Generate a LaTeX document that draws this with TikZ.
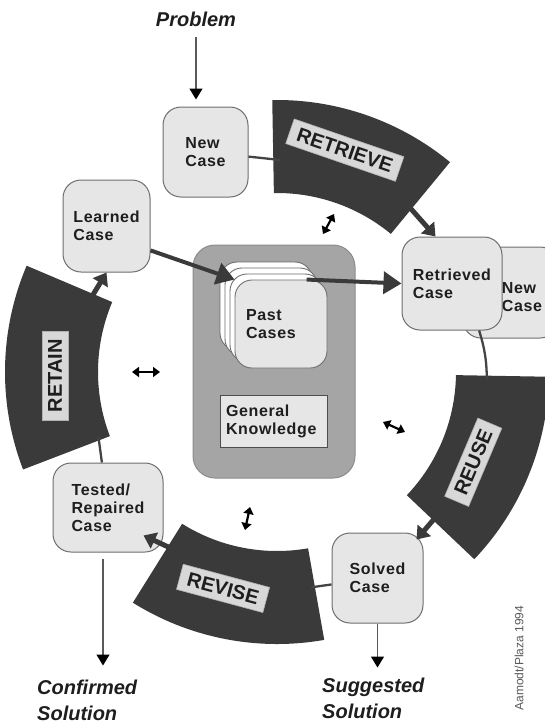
\documentclass[tikz,border=0pt]{standalone}
\usepackage{fontspec}
\setmainfont{Liberation Sans}
\newfontfamily\casefont{Liberation Sans}[LetterSpace=4]
\usetikzlibrary{calc,arrows.meta}
\definecolor{bandc}{HTML}{3A3A3A}
\definecolor{nodefill}{HTML}{E6E6E6}
\definecolor{nodeline}{HTML}{6E6E6E}
\definecolor{kbfill}{HTML}{A5A5A5}
\definecolor{kbline}{HTML}{8C8C8C}
\definecolor{labfill}{HTML}{D8D8D8}
\definecolor{linec}{HTML}{444444}
\definecolor{txt}{HTML}{1E1E1E}
\newcommand\cbrband[2]{%
  \fill[bandc] ($(O)+(#1:179pt)$) arc[start angle=#1, end angle=#2, radius=179pt]
    -- ($(O)+(#2:272pt)$) arc[start angle=#2, end angle=#1, radius=272pt] -- cycle;}
\begin{document}
\begin{tikzpicture}[x=1pt,y=1pt,
  casebox/.style={draw=nodeline, line width=1pt, fill=nodefill, rounded corners=18pt,
    align=left, text=txt, font=\casefont\bfseries\fontsize{16}{18}\selectfont, inner sep=0pt},
  casetext/.style={align=left, text=txt, font=\casefont\bfseries\fontsize{16}{18}\selectfont, inner sep=0pt},
  card/.style={draw=nodeline, line width=0.9pt, fill=white, rounded corners=17pt,
    minimum width=92pt, minimum height=88pt, inner sep=0pt},
  kb/.style={draw=kbline, line width=1pt, fill=kbfill, rounded corners=22pt, inner sep=0pt},
  gk/.style={draw=black!70, line width=0.8pt, fill=nodefill, align=left, text width=95pt,
    text=txt, font=\casefont\bfseries\fontsize{16}{18}\selectfont, inner xsep=0pt, inner ysep=0pt},
  lab/.style={fill=labfill, draw=gray!60, line width=0.6pt, text=txt,
    font=\bfseries\fontsize{20}{22}\selectfont, inner xsep=8pt, inner ysep=3pt, minimum height=26pt},
  conn/.style={draw=linec, line width=2.3pt},
  bandarrow/.style={draw=bandc, line width=5pt, -{Triangle[length=12pt,width=17pt]}},
  bigarrow/.style={draw=bandc, line width=4pt, -{Triangle[length=18pt,width=22pt]}},
  thinarrow/.style={draw=black!65, line width=1.3pt, -{Triangle[length=11pt,width=13pt,color=black]}},
  dbl/.style={draw=black, line width=2.2pt, {Triangle[length=7pt,width=10pt]}-{Triangle[length=7pt,width=10pt]}},
  bigtxt/.style={font=\bfseries\itshape\fontsize{20}{26}\selectfont, text=txt, align=left, inner sep=0pt}
]
\useasboundingbox (0,-721) rectangle (545,0);
\clip (0,-721) rectangle (545,0);
\coordinate (O) at (277,-372);

% process bands
\cbrband{91}{50.5}
\cbrband{-1}{-43.5}
\cbrband{-80}{-122}
\cbrband{201}{157}

% band start / end points
\coordinate (rt-s) at ($(O)+(89:212pt)$);
\coordinate (rt-e) at ($(O)+(52:212pt)$);
\coordinate (ru-s) at ($(O)+(-2:210pt)$);
\coordinate (ru-e) at ($(O)+(-42:215pt)$);
\coordinate (rv-s) at ($(O)+(-81:218pt)$);
\coordinate (rv-e) at ($(O)+(-119:205pt)$);
\coordinate (ra-s) at ($(O)+(200:190pt)$);
\coordinate (ra-e) at ($(O)+(158:200pt)$);

% knowledge base
\node[kb, minimum width=162pt, minimum height=233pt] (kb) at (274,-361.5) {};
\node[card] (past3) at (266,-306) {};
\node[card] (past2) at (271,-312) {};
\node[card] (past1) at (276,-318) {};
\node[card, fill=nodefill, text width=70pt, align=left, text=txt,
  font=\casefont\bfseries\fontsize{16}{18}\selectfont] (past) at (281,-324) {Past\\Cases};
\node[gk, minimum width=107pt, minimum height=52pt] (gk) at (273.5,-421) {General\\Knowledge};

% case nodes
\node[casebox, minimum width=85pt, minimum height=90pt] (newcase) at (205.5,-152) {New\\Case};
\node[casebox, minimum width=87pt, minimum height=92pt] (learned) at (106.5,-226) {Learned\\Case};
\node[casebox, minimum width=95pt, minimum height=91pt] (newcase2) at (510.5,-292.5) {};
\node[casetext] (newcase2txt) at ([xshift=11.5pt,yshift=-4.5pt]newcase2.center) {New\\Case};
\node[casebox, minimum width=100pt, minimum height=93pt] (retrieved) at (452,-283.5) {Retrieved\\Case};
\node[casebox, minimum width=110pt, minimum height=89pt] (tested) at (108,-507.5) {Tested/\\Repaired\\Case};
\node[casebox, minimum width=91pt, minimum height=90pt] (solved) at (377.5,-578) {Solved\\Case};

% thin connectors along the cycle
\draw[conn] (rt-s) -- (newcase);
\draw[conn] (retrieved.-60) to[bend left=8] (ru-s);
\draw[conn] (rv-s) -- (solved);
\draw[conn] (ra-s) -- (tested);

% band labels
\node[lab, rotate=-19] (lretrieve) at ($(O)+(73:232pt)$) {RETRIEVE};
\node[lab, rotate=67] (lreuse) at ($(O)+(-24.7:216pt)$) {REUSE};
\node[lab, rotate=-15] (lrevise) at ($(O)+(-104:223pt)$) {REVISE};
\node[lab, rotate=90] (lretain) at ($(O)+(181:222pt)$) {RETAIN};

% band arrows
\draw[bandarrow] (rt-e) -- ($(retrieved.north west)+(34,0)$);
\draw[bandarrow] (ru-e) -- ($(solved.north east)+(-7,-7)$);
\draw[bandarrow] (rv-e) -- ($(tested.south east)+(-20,17)$);
\draw[bandarrow] (ra-e) -- (learned.south);

% knowledge arrows
\draw[bigarrow] (learned.-29) -- (past.north west);
\draw[bigarrow] (past.60) -- (retrieved.west);

% inputs and outputs
\node[bigtxt, anchor=north] (problem) at (196,-12) {Problem};
\node[bigtxt, anchor=north west] (confirmed) at (37,-680) {Confirmed\\Solution};
\node[bigtxt, anchor=north west] (suggested) at (322,-678) {Suggested\\Solution};
\coordinate (pn) at (problem.south |- newcase.north);
\draw[thinarrow] ([yshift=-10pt]problem.south) -- ([yshift=7pt]pn);
\draw[thinarrow] ([xshift=-5pt,yshift=-6pt]tested.south) -- ++(0,-107);
\draw[thinarrow] (solved.south) -- ++(0,-44);

% interaction double arrows
\coordinate (d1a) at (323,-234); \coordinate (d1b) at (334,-214);
\coordinate (d2a) at (132,-372); \coordinate (d2b) at (160,-372);
\coordinate (d3a) at (383,-422); \coordinate (d3b) at (405,-432);
\coordinate (d4a) at (250,-507); \coordinate (d4b) at (245,-530);
\draw[dbl] (d1a) -- (d1b);
\draw[dbl] (d2a) -- (d2b);
\draw[dbl] (d3a) -- (d3b);
\draw[dbl] (d4a) -- (d4b);

% credit
\node[rotate=90, font=\fontsize{12}{13}\selectfont, text=black!65, inner sep=0pt] (credit) at (519,-658) {Aamodt/Plaza 1994};
\end{tikzpicture}
\end{document}
